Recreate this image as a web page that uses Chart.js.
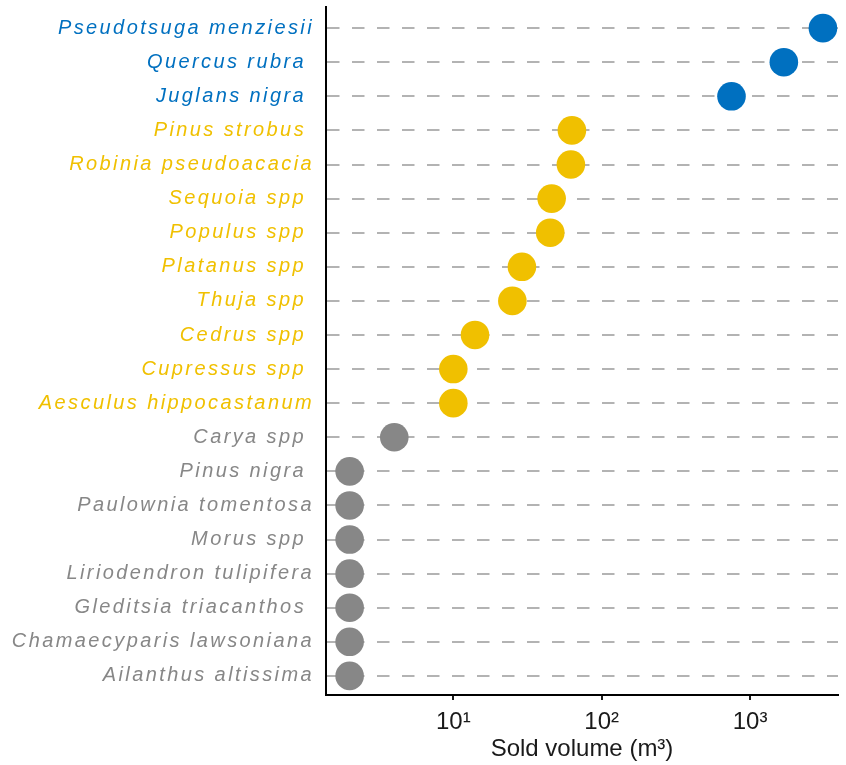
<!DOCTYPE html>
<html>
<head>
<meta charset="utf-8">
<script src="https://cdn.jsdelivr.net/npm/chart.js@4"></script>
<style>
  body { margin: 0; background: #fff; }
  canvas { display: block; }
</style>
</head>
<body>
<canvas id="chart" width="846" height="765"></canvas>
<script>
// Species, top to bottom (trailing spaces are in the original labels)
const species = [
  "Pseudotsuga menziesii", "Quercus rubra ", "Juglans nigra ", "Pinus strobus ",
  "Robinia pseudoacacia", "Sequoia spp ", "Populus spp ", "Platanus spp ",
  "Thuja spp ", "Cedrus spp ", "Cupressus spp ", "Aesculus hippocastanum",
  "Carya spp ", "Pinus nigra ", "Paulownia tomentosa", "Morus spp ",
  "Liriodendron tulipifera", "Gleditsia triacanthos ", "Chamaecyparis lawsoniana", "Ailanthus altissima"
]

// Sold volume (m³)
const volumes = [3100, 1690, 750, 63, 62, 46, 45, 29, 25, 14, 10, 10, 4, 2, 2, 2, 2, 2, 2, 2]

// Volume class of each species
const groups = [
  "high", "high", "high", "mid", "mid", "mid", "mid", "mid", "mid", "mid",
  "mid", "mid", "low", "low", "low", "low", "low", "low", "low", "low"
]

const groupColors = { high: "#0070c0", mid: "#f0c000", low: "#878787" }

const tickValues = [10, 100, 1000]
const tickLabels = ["10¹", "10²", "10³"]

// wide glyph spacing only on the species labels (drawn after the dots)
const spacing = {
  id: "spacing",
  beforeDraw(chart) { chart.ctx.letterSpacing = "0px" },
  afterDatasetsDraw(chart) { chart.ctx.letterSpacing = "2.4px" }
}

Chart.defaults.font.family = "'Liberation Sans', Arial, sans-serif"

new Chart(document.getElementById("chart"), {
  type: "scatter",
  data: {
    datasets: [{
      data: volumes.map((v, i) => ({ x: v, y: i })),
      pointBackgroundColor: groups.map((g) => groupColors[g]),
      pointBorderWidth: 0,
      pointRadius: 14.3,
      pointHoverRadius: 14.3,
      clip: false
    }]
  },
  options: {
    responsive: false,
    animation: false,
    events: [],
    layout: { autoPadding: false, padding: { left: 0, top: 7, right: 8, bottom: 0 } },
    plugins: { legend: { display: false }, tooltip: { enabled: false } },
    scales: {
      x: {
        type: "logarithmic",
        position: "bottom",
        min: 1.386,
        max: 3917,
        afterBuildTicks: (s) => { s.ticks = tickValues.map((v) => ({ value: v })) },
        afterFit: (s) => { s.height = 70; s.paddingLeft = 0; s.paddingRight = 0 },
        ticks: {
          callback: (v) => tickLabels[tickValues.indexOf(v)],
          color: "#1a1a1a",
          font: { size: 24 },
          padding: 8,
          maxRotation: 0,
          autoSkip: false
        },
        grid: { drawOnChartArea: false, drawTicks: true, tickLength: 5, color: "#1a1a1a", lineWidth: 2 },
        border: { color: "#000", width: 2 },
        title: {
          display: true,
          text: "Sold volume (m³)",
          color: "#1a1a1a",
          font: { size: 24 },
          padding: { top: 0, bottom: 1 }
        }
      },
      y: {
        type: "linear",
        reverse: true,
        min: -0.62,
        max: 19.56,
        afterBuildTicks: (s) => { s.ticks = species.map((_, i) => ({ value: i })) },
        afterFit: (s) => { s.width = 326; s.paddingTop = 0; s.paddingBottom = 0 },
        ticks: {
          callback: (v) => species[v],
          color: (ctx) => groupColors[groups[ctx.index]],
          font: { size: 20, style: "italic" },
          padding: 12,
          autoSkip: false,
          z: 1
        },
        grid: { color: "#b3b3b3", lineWidth: 2, drawTicks: false },
        border: { color: "#000", width: 2, dash: [12.5, 12.5] }
      }
    }
  },
  plugins: [spacing]
})
</script>
</body>
</html>
